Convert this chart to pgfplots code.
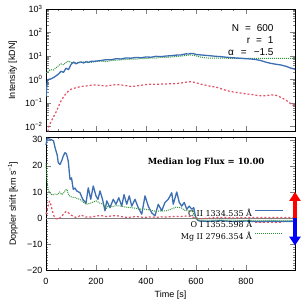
\documentclass[border=0pt]{standalone}
\usepackage{pgfplots}
\pgfplotsset{compat=1.18}
\usepackage{fontspec}
\setmainfont{Liberation Sans}
\newfontfamily\seriffont{DejaVu Serif}
\usetikzlibrary{arrows.meta}
\definecolor{cblue}{RGB}{60,110,178}
\definecolor{cred}{RGB}{226,82,104}
\definecolor{cgreen}{RGB}{50,150,60}

\pgfplotstableread{
t I
0 0.18
5 0.8
10 1.0
20 1.05
30 1.2
40 1.4
50 1.7
60 2.2
70 2.0
80 3.0
90 2.6
100 4.3
110 5.5
120 4.6
130 5.2
140 5.5
150 5.0
160 5.6
170 5.3
180 5.9
200 6.0
220 6.4
240 6.9
260 6.8
280 7.6
300 7.4
320 8.2
340 8.0
360 8.6
380 8.3
400 9.0
420 8.8
440 9.6
460 9.3
480 9.9
500 10.2
520 10.8
540 11.0
560 12.3
570 12.0
580 12.8
590 12.5
600 11.5
620 11.0
650 10.3
680 9.6
700 9.3
720 8.8
750 8.3
780 7.9
800 7.6
820 7.4
840 7.0
860 6.3
880 5.4
900 4.8
920 4.4
940 4.1
960 3.6
980 3.0
996 2.7
}\topblue

\pgfplotstableread{
t I
0 1.9
10 2.3
20 2.6
30 2.5
40 3.1
50 3.8
60 4.6
70 4.2
80 5.3
90 6.0
100 5.2
120 5.0
140 5.4
160 5.6
180 5.3
200 5.8
220 6.0
240 5.7
260 6.3
280 6.5
300 6.8
320 7.0
340 7.3
360 7.2
380 7.8
400 7.6
420 8.2
440 8.0
460 8.8
480 8.5
500 9.0
520 9.5
540 9.8
560 10.5
580 11.0
600 10.0
620 8.8
640 8.2
660 8.0
700 8.0
800 7.8
900 7.8
996 7.8
}\topgreen

\pgfplotstableread{
t I
8 0.006
10 0.009
20 0.016
30 0.025
40 0.04
50 0.07
60 0.12
70 0.18
80 0.25
90 0.32
100 0.38
120 0.44
140 0.50
160 0.52
180 0.56
200 0.58
220 0.55
240 0.52
260 0.56
280 0.60
300 0.58
320 0.54
340 0.50
360 0.52
380 0.56
400 0.60
420 0.62
440 0.61
460 0.63
480 0.64
500 0.65
520 0.66
540 0.70
560 0.76
580 0.80
600 0.72
620 0.62
640 0.56
660 0.50
680 0.47
700 0.40
720 0.34
740 0.30
760 0.28
780 0.26
800 0.24
820 0.23
840 0.21
860 0.20
880 0.20
900 0.22
920 0.21
940 0.17
960 0.13
980 0.09
996 0.07
}\topred

\pgfplotstableread{
t v
0 28
5 30.5
10 30.3
20 30.0
30 29.6
36 27
45 24
49 21.2
56 20.5
63 22
69 23.7
76 25
82 24.5
89 21.8
96 14.8
102 15.4
109 11
116 11.5
123 10.4
136 9.7
147 7.2
160 5.7
169 11.6
179 7.2
189 12.3
200 8.5
208 7.2
216 10.4
226 7.2
236 2.8
243 6.6
256 4
269 7.2
280 5.3
291 7.8
303 4.6
312 9
323 5.3
333 8.5
343 4.6
356 7.2
369 4
383 1.5
396 8.5
409 4.6
423 2
436 0.9
449 5.3
463 2.8
476 6
489 7.2
503 9.7
509 5.3
523 10
533 6
543 4.6
553 6
563 3.4
573 4.6
583 3.4
591 4
596 1.5
600 0.2
609 -1
620 -1.1
650 -1.2
700 -1.0
750 -1.3
800 -1.1
850 -1.4
900 -1.2
950 -1.3
996 -1.2
}\botblue

\pgfplotstableread{
t v
0 21
3 15.5
8 11
15 9.7
25 8.8
35 9.2
45 9.0
55 10
62 9
70 9.5
78 10.8
84 11
90 9
96 8.3
105 8
115 7.9
125 7.5
135 7.2
145 6.5
160 5.3
175 5.6
190 6.2
200 6.6
215 5.8
230 5.2
240 3.5
250 4.8
265 4.4
280 4.8
300 4.6
320 4.2
340 4.0
360 3.8
380 3.4
400 3.4
420 3.0
440 2.6
460 2.8
480 2.8
500 3.4
520 4.2
540 4.0
555 3.0
570 2.8
585 2.6
595 1.0
602 -0.5
620 -0.8
700 -0.7
800 -0.9
900 -0.8
996 -0.9
}\botgreen

\pgfplotstableread{
t v
0 1.5
8 4.5
14 6.5
20 5.0
26 2.5
32 0.8
40 -0.2
50 -0.4
60 0.6
70 1.5
80 2.6
90 2.0
100 1.2
110 0.6
120 0.3
130 0.6
140 1.2
150 0.8
160 0.4
180 0.4
200 0.8
220 1.0
240 0.6
260 0.8
280 1.0
300 0.6
320 0.3
340 0.4
360 0.6
380 0.4
400 0.3
420 0.5
440 0.3
460 0.5
480 0.4
500 0.6
520 0.7
540 0.6
560 0.8
580 0.6
600 0.0
620 -0.2
650 0.0
700 0.3
750 0.1
800 0.2
850 0.3
900 0.2
950 0.3
996 0.2
}\botred

\pgfplotsset{
  common/.style={
    scale only axis, width=249pt, xmin=0, xmax=996,
    tick align=inside, xtick pos=both, ytick pos=both,
    major tick length=5pt, minor tick length=2.5pt,
    xtick={0,200,400,600,800}, minor x tick num=3,
    font=\fontsize{9}{10}\selectfont,
    every axis plot/.append style={line join=round},
  },
}

\begin{document}
\begin{tikzpicture}
\path[use as bounding box] (0pt,0pt) rectangle (305pt,305pt);

\begin{axis}[common,
  at={(46pt,173.5pt)}, anchor=south west, height=122.5pt,
  ymode=log, ymin=6e-3, ymax=1e3,
  xticklabels={},
  ytick={1e-2,1e-1,1,10,100,1000},
  yticklabels={10\textsuperscript{−2},10\textsuperscript{−1},10\textsuperscript{0},10\textsuperscript{1},10\textsuperscript{2},10\textsuperscript{3}},
  ylabel={Intensity [kDN]},
  ylabel style={at={(axis description cs:-0.133,0.5)}, anchor=center},
]
\addplot[cred, line width=1.2pt, dash pattern=on 2pt off 2pt] table[x=t,y=I] {\topred};
\addplot[cgreen, line width=1pt, densely dotted] table[x=t,y=I] {\topgreen};
\addplot[cblue, line width=1.3pt] table[x=t,y=I] {\topblue};
\node[anchor=base east, font=\fontsize{10}{11}\selectfont] at (axis description cs:0.928,0.82) {N\hspace{6pt}=\hspace{6pt}600};
\node[anchor=base east, font=\fontsize{10}{11}\selectfont] at (axis description cs:0.928,0.722) {r\hspace{6pt}=\hspace{6pt}1};
\node[anchor=base east, font=\fontsize{10}{11}\selectfont] at (axis description cs:0.928,0.624) {α\hspace{7pt}=\hspace{7pt}−1.5};
\end{axis}

\begin{axis}[common,
  at={(46pt,34.5pt)}, anchor=south west, height=133.5pt,
  ymin=-20, ymax=31, clip=false,
  ytick={-20,-10,0,10,20,30}, minor y tick num=9,
  yticklabels={−20,−10,0,10,20,30},
  xticklabels={0,200,400,600,800},
  xticklabel style={yshift=-4pt},
  xlabel={Time [s]},
  xlabel style={at={(axis description cs:0.5,-0.183)}, anchor=center},
  ylabel={Doppler shift [km s\textsuperscript{−1}]},
  ylabel style={at={(axis description cs:-0.133,0.5)}, anchor=center},
  legend style={draw=none, fill=none, at={(axis description cs:0.956,0.48)}, anchor=north east,
    font=\seriffont\fontsize{8}{9}\selectfont, row sep=-1.5pt, inner sep=0.5pt},
  legend cell align=right, legend plot pos=right,
  legend image code/.code={\draw[#1] (2pt,2.8pt) -- (30pt,2.8pt);},
]
\addplot[gray, line width=0.5pt, forget plot] coordinates {(0,0) (996,0)};
\addplot[cblue, line width=1.3pt] table[x=t,y=v] {\botblue};
\addplot[cred, line width=1.2pt, dash pattern=on 2pt off 2pt] table[x=t,y=v] {\botred};
\addplot[cgreen, line width=1pt, densely dotted] table[x=t,y=v] {\botgreen};
\legend{C II 1334.535 Å, O I 1355.598 Å, Mg II 2796.354 Å}
\node[font=\seriffont\bfseries\fontsize{8.5}{10}\selectfont] at (axis description cs:0.643,0.813) {Median log Flux = 10.00};
\draw[red, line width=4pt, -{Triangle[width=11pt,length=9pt]}] (axis cs:996,0) -- (axis cs:996,10);
\draw[blue, line width=4pt, -{Triangle[width=11pt,length=9pt]}] (axis cs:996,0) -- (axis cs:996,-10.5);
\end{axis}
\end{tikzpicture}
\end{document}
